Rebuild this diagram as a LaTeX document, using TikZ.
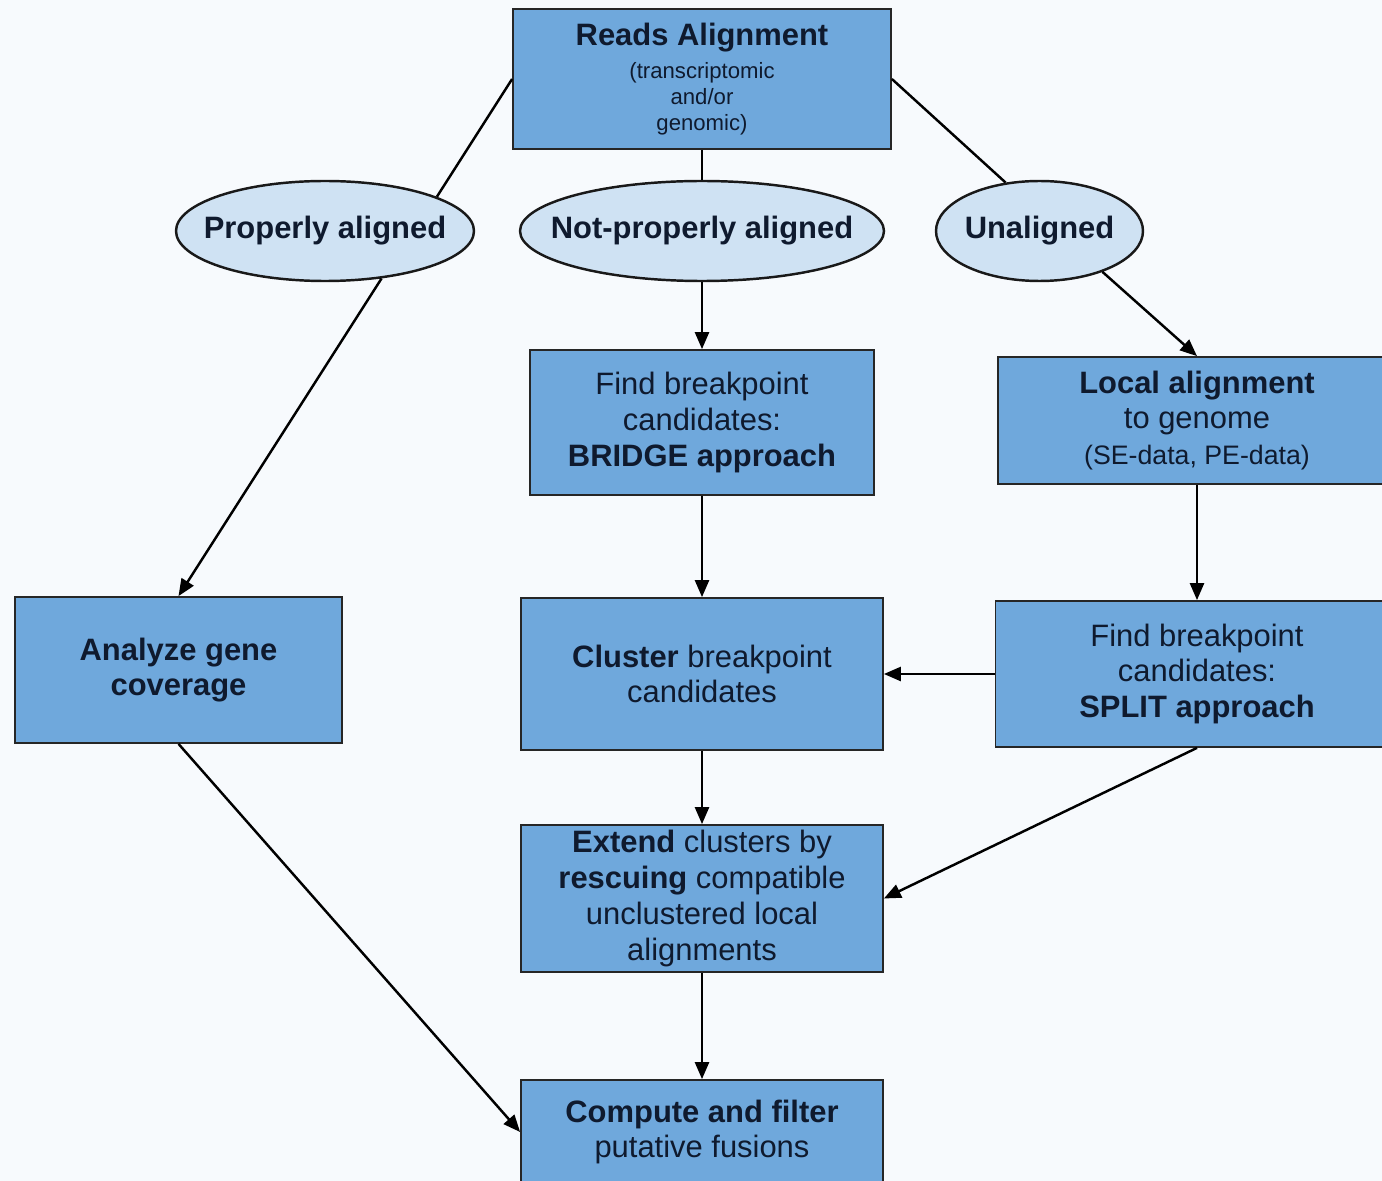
\documentclass[tikz,border=0pt]{standalone}
\usepackage{fontspec}
\setmainfont{Liberation Sans}
\usetikzlibrary{shapes.geometric,arrows.meta}
\definecolor{boxblue}{HTML}{6FA8DC}
\definecolor{ovalblue}{HTML}{CFE2F3}
\definecolor{ink}{HTML}{0F1A2E}
\definecolor{paper}{HTML}{F7FAFD}
\newcommand{\sm}{\fontsize{6.3}{7.5}\selectfont}
\newcommand{\md}{\fontsize{7.6}{9}\selectfont}
\newcommand{\nowide}[1]{\makebox[0pt]{#1}}

\begin{document}
\begin{tikzpicture}[
    font=\fontsize{8.8}{10.2}\selectfont,
    proc/.style={draw=black!85, line width=0.5pt, fill=boxblue, text=ink,
        align=center, inner sep=0pt},
    oval/.style={ellipse, draw=black!90, line width=0.7pt, fill=ovalblue,
        text=ink, inner sep=0pt, minimum height=1cm, font=\fontsize{8.8}{10.2}\selectfont\bfseries},
    link/.style={line width=0.7pt},
    flow/.style={link, -{Triangle[length=1.7mm,width=1.4mm]}}
]
    \useasboundingbox (0,0) rectangle (13.82,-11.81);
    \clip (0,0) rectangle (13.82,-11.81);
    \fill[paper] (0,0) rectangle (13.82,-11.81);

    % top box and the three read classes
    \node[proc, minimum width=3.78cm, minimum height=1.40cm] (reads) at (7.02,-0.79)
        {\textbf{Reads Alignment}\\[-0.8pt]{\sm (transcriptomic}\\[-2.7pt]{\sm and/or}\\[-2.7pt]{\sm genomic)}};
    \node[oval, minimum width=2.98cm] (proper) at (3.25,-2.31) {\nowide{Properly aligned}};
    \node[oval, minimum width=3.64cm] (notprop) at (7.02,-2.31) {\nowide{Not-properly aligned}};
    \node[oval, minimum width=2.07cm] (unal) at (10.395,-2.31) {\nowide{Unaligned}};

    % processing steps
    \node[proc, minimum width=3.44cm, minimum height=1.45cm] (bridge) at (7.02,-4.225)
        {Find breakpoint\\candidates:\\\textbf{BRIDGE approach}};
    \node[proc, minimum width=3.98cm, minimum height=1.27cm] (local) at (11.97,-4.205)
        {\textbf{Local alignment}\\to genome\\{\md (SE-data, PE-data)}};
    \node[proc, minimum width=3.27cm, minimum height=1.46cm] (cover) at (1.785,-6.70)
        {\textbf{Analyze gene}\\\textbf{coverage}};
    \node[proc, minimum width=3.62cm, minimum height=1.52cm] (cluster) at (7.02,-6.74)
        {\textbf{Cluster} breakpoint\\candidates};
    \node[proc, minimum width=4.03cm, minimum height=1.46cm] (split) at (11.97,-6.74)
        {Find breakpoint\\candidates:\\\textbf{SPLIT approach}};
    \node[proc, minimum width=3.62cm, minimum height=1.47cm] (extend) at (7.02,-8.985)
        {\textbf{Extend} clusters by\\\textbf{rescuing} compatible\\unclustered local\\alignments};
    \node[proc, minimum width=3.62cm, minimum height=1.04cm] (fusion) at (7.02,-11.32)
        {\textbf{Compute and filter}\\putative fusions};

    % connectors
    \draw[link] (reads.west) -- (proper.17);
    \draw[link] (reads.south) -- (notprop.north);
    \draw[link] (reads.east) -- (unal.125);
    \draw[flow] (proper.-40) -- (cover.north);
    \draw[flow] (notprop.south) -- (bridge.north);
    \draw[flow] (unal.-33) -- (local.north);
    \draw[flow] (bridge.south) -- (cluster.north);
    \draw[flow] (local.south) -- (split.north);
    \draw[flow] (split.west) -- (cluster.east);
    \draw[flow] (cluster.south) -- (extend.north);
    \draw[flow] (split.south) -- (extend.east);
    \draw[flow] (extend.south) -- (fusion.north);
    \draw[flow] (cover.south) -- (fusion.west);
\end{tikzpicture}
\end{document}
